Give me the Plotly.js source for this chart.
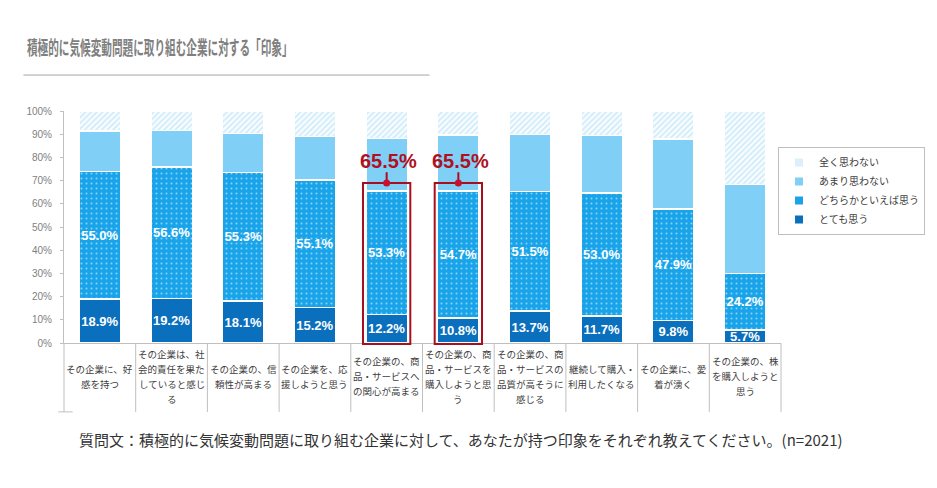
<!DOCTYPE html>
<html>
<head>
<meta charset="utf-8">
<script src="https://cdn.plot.ly/plotly-3.0.1.min.js"></script>
<style>
html,body{margin:0;padding:0;background:#fff;}
#chart{width:937px;height:488px;}
</style>
</head>
<body>
<div id="chart"></div>
<script>
// ---- data ----
const categories = [
  "その企業に、好<br>感を持つ",
  "その企業は、社<br>会的責任を果た<br>していると感じ<br>る",
  "その企業の、信<br>頼性が高まる",
  "その企業を、応<br>援しようと思う",
  "その企業の、商<br>品・サービスへ<br>の関心が高まる",
  "その企業の、商<br>品・サービスを<br>購入しようと思<br>う",
  "その企業の、商<br>品・サービスの<br>品質が高そうに<br>感じる",
  "継続して購入・<br>利用したくなる",
  "その企業に、愛<br>着が湧く",
  "その企業の、株<br>を購入しようと<br>思う"
];
const seriesNames = ["とても思う", "どちらかといえば思う", "あまり思わない", "全く思わない"];
const veryMuch   = [18.9, 19.2, 18.1, 15.2, 12.2, 10.8, 13.7, 11.7, 9.8, 5.7];
const somewhat   = [55.0, 56.6, 55.3, 55.1, 53.3, 54.7, 51.5, 53.0, 47.9, 24.2];
const notMuch    = [17.4, 15.9, 17.0, 18.8, 22.6, 24.1, 24.7, 24.7, 30.3, 38.5];
const notAtAll   = [ 8.7,  8.3,  9.6, 10.9, 11.9, 10.4, 10.1, 10.6, 12.0, 31.6];
const highlighted = [4, 5];
const titleText = "積極的に気候変動問題に取り組む企業に対する「印象」";
const noteText = "質問文：積極的に気候変動問題に取り組む企業に対して、あなたが持つ印象をそれぞれ教えてください。(n=2021)";

// ---- styles ----
const C_DARK = "#0a6fbd", C_MID = "#19a4ea", C_LIGHT = "#7fcff6", C_HATCH = "#a9dcf6", C_LEG0 = "#dbf0fb";
const JP = "'Noto Sans CJK JP', 'Noto Sans', sans-serif";
const NUM = "'Liberation Sans', Arial, sans-serif";
const RED = "#a80f1c";
const nCat = categories.length;
const fmt = v => v.toFixed(1) + "%";
const line = {color: "#ffffff", width: 1.5};

const traces = [
  {type: "bar", name: seriesNames[0], x: categories, y: veryMuch, showlegend: false,
   marker: {color: C_DARK, line: line},
   text: veryMuch.map(fmt), textposition: "inside", insidetextanchor: "middle", textangle: 0,
   constraintext: "none", textfont: {family: NUM, size: 13, color: "#ffffff", weight: "bold"}, hoverinfo: "skip"},
  {type: "bar", name: seriesNames[1], x: categories, y: somewhat, showlegend: false,
   marker: {color: C_MID, line: line, pattern: {shape: ".", bgcolor: C_MID, fgcolor: "#ffffff", size: 5, solidity: 0.12, fillmode: "overlay"}},
   text: somewhat.map(fmt), textposition: "inside", insidetextanchor: "middle", textangle: 0,
   constraintext: "none", textfont: {family: NUM, size: 13, color: "#ffffff", weight: "bold"}, hoverinfo: "skip"},
  {type: "bar", name: seriesNames[2], x: categories, y: notMuch, showlegend: false,
   marker: {color: C_LIGHT, line: line}, hoverinfo: "skip"},
  {type: "bar", name: seriesNames[3], x: categories, y: notAtAll, showlegend: false,
   marker: {color: "#ffffff", line: line, pattern: {shape: "/", bgcolor: "#ffffff", fgcolor: C_HATCH, size: 4, solidity: 0.55, fillmode: "overlay"}},
   hoverinfo: "skip"}
];
// legend entries (solid squares, top to bottom)
const legendColors = [C_LEG0, C_LIGHT, C_MID, C_DARK];
[3, 2, 1, 0].forEach((s, k) => {
  traces.push({type: "scatter", mode: "markers", x: [null], y: [null], name: seriesNames[s],
    marker: {symbol: "square", size: 8, color: legendColors[k]}, showlegend: true, hoverinfo: "skip"});
});

const shapes = [];
const annotations = [];
const GRID = "#bfbfbf";
// category separators below the axis
for (let k = 0; k <= nCat; k++) {
  shapes.push({type: "line", xref: "paper", yref: "paper", x0: k / nCat, x1: k / nCat, y0: 0, y1: -0.297,
    line: {color: GRID, width: 1}});
}
shapes.push({type: "line", xref: "paper", yref: "paper", x0: -0.008, x1: 0.012, y0: -0.297, y1: -0.297, line: {color: GRID, width: 1}});
// title underline
shapes.push({type: "line", xref: "paper", yref: "paper", x0: -0.0566, x1: 0.5097, y0: 1.155, y1: 1.155, line: {color: "#a6a6a6", width: 1}});

// category labels
categories.forEach((c, i) => {
  const parts = c.split("<br>");
  const n = parts.length;
  parts.forEach((p, j) => {
    annotations.push({xref: "paper", yref: "paper", x: (i + 0.5) / nCat, y: 0, yanchor: "middle", xanchor: "center",
      yshift: -(33 + (j - (n - 1) / 2) * 15), text: p, showarrow: false,
      font: {family: JP, size: 9.5, color: "#404040"}});
  });
});

// highlight boxes and callouts
highlighted.forEach(i => {
  const total = veryMuch[i] + somewhat[i];
  const cx = (i + 0.5) / nCat;
  const top = (total + 3.5) / 100;
  shapes.push({type: "rect", xref: "paper", yref: "paper", x0: cx - 0.033, x1: cx + 0.033, y0: -0.004, y1: top,
    line: {color: RED, width: 2}, fillcolor: "rgba(0,0,0,0)"});
  shapes.push({type: "line", xref: "paper", yref: "paper", x0: cx, x1: cx, y0: top, y1: top + 0.046,
    line: {color: RED, width: 2}});
  shapes.push({type: "circle", xref: "paper", yref: "paper", xsizemode: "pixel", ysizemode: "pixel",
    xanchor: cx, yanchor: top, x0: -3.5, x1: 3.5, y0: -3.5, y1: 3.5, fillcolor: "#c8102e", line: {width: 0}});
  annotations.push({xref: "paper", yref: "paper", x: cx, y: top + 0.096, xanchor: "center", yanchor: "middle",
    xshift: 2, text: fmt(total), showarrow: false, font: {family: NUM, size: 20, color: "#b0101f", weight: "bold"}});
});

// question note
annotations.push({xref: "paper", yref: "paper", x: 0.018, y: -0.418, xanchor: "left", yanchor: "middle",
  text: noteText, showarrow: false, font: {family: JP, size: 15, color: "#333333"}});

const layout = {
  width: 937, height: 488,
  margin: {l: 64, r: 149, t: 111, b: 145, pad: 0},
  paper_bgcolor: "#ffffff", plot_bgcolor: "#ffffff",
  title: {text: titleText, x: 27 / 937, xanchor: "left", xref: "container", y: 1 - 48 / 488, yanchor: "middle", yref: "container",
    font: {family: JP, size: 19, color: "#7f7f7f", weight: "bold"}},
  barmode: "stack", bargap: 0.42,
  xaxis: {type: "category", range: [-0.5, nCat - 0.5], showticklabels: false, showline: true, linecolor: GRID, linewidth: 1,
    showgrid: false, zeroline: false, ticks: "", fixedrange: true},
  yaxis: {range: [0, 100], dtick: 10, tick0: 0, ticksuffix: "%", showline: true, linecolor: GRID, linewidth: 1,
    ticks: "outside", ticklen: 3, tickcolor: GRID, showgrid: false, zeroline: false, ticklabelstandoff: 6,
    tickfont: {family: NUM, size: 10, color: "#7f7f7f"}, fixedrange: true},
  showlegend: true,
  legend: {x: (785 - 64) / 724, xanchor: "left", y: (343 - 147) / 232, yanchor: "top", bordercolor: GRID, borderwidth: 1,
    font: {family: JP, size: 10, color: "#404040"}, bgcolor: "#ffffff", traceorder: "normal", itemwidth: 30},
  shapes: shapes, annotations: annotations
};

Plotly.newPlot("chart", traces, layout, {staticPlot: true, displayModeBar: false}).then(gd => {
  // condense the title horizontally, as in the reference
  const t = gd.querySelector(".gtitle");
  if (t) {
    const x0 = parseFloat(t.getAttribute("x")) || 27;
    t.setAttribute("transform", "translate(" + x0 + ",0) scale(0.56,1) translate(" + (-x0) + ",0)");
  }
});
</script>
</body>
</html>
